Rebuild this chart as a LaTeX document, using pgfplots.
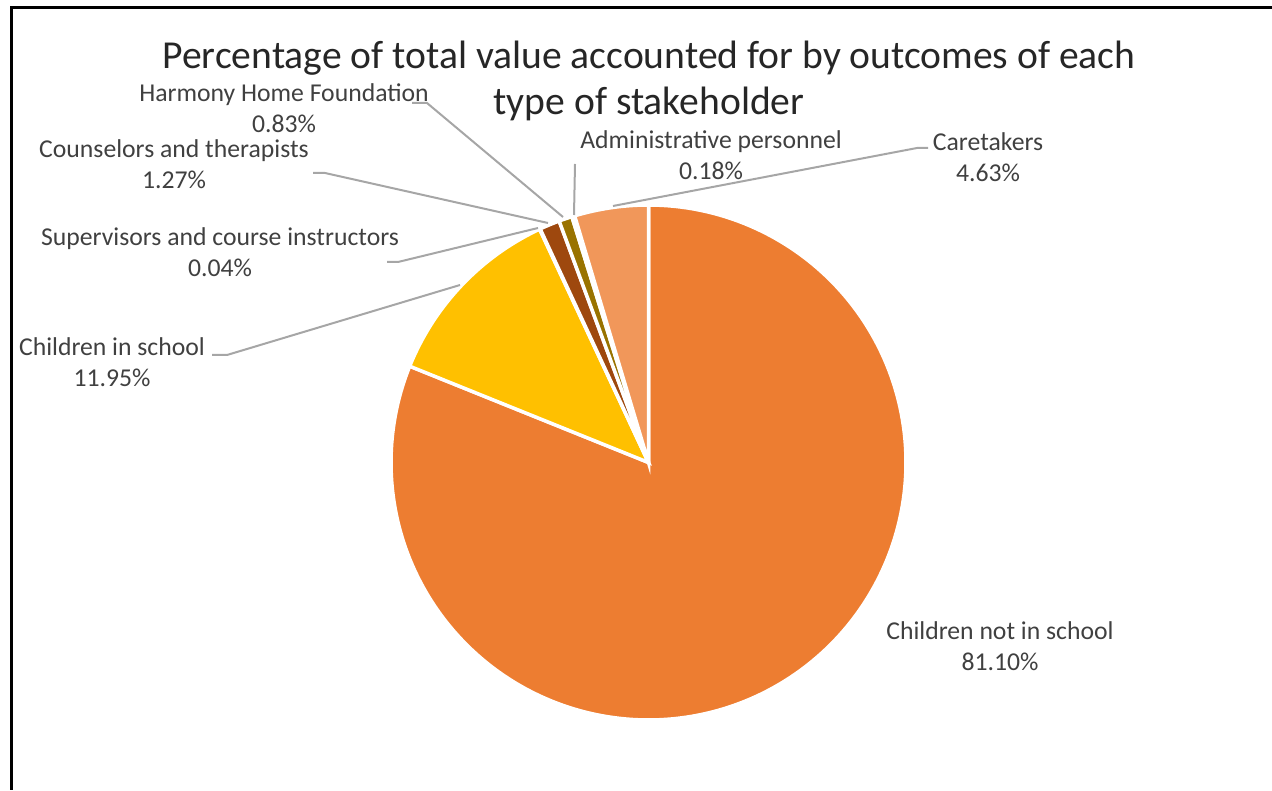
\documentclass[border=0pt]{standalone}
\usepackage{pgfplots}
\pgfplotsset{compat=1.18}
\usepackage{fontspec}
\setmainfont{Carlito}
\definecolor{cNot}{HTML}{ED7D31}
\definecolor{cIn}{HTML}{FFC000}
\definecolor{cSup}{HTML}{C55A11}
\definecolor{cCou}{HTML}{9E480E}
\definecolor{cHar}{HTML}{997300}
\definecolor{cAdm}{HTML}{7F6000}
\definecolor{cCar}{HTML}{F1975A}
\definecolor{lead}{HTML}{A6A6A6}
\definecolor{txt}{HTML}{404040}
% percentages (clockwise from 12 o'clock)
\def\pNot{81.10}\def\pIn{11.95}\def\pSup{0.04}\def\pCou{1.27}\def\pHar{0.83}\def\pAdm{0.18}\def\pCar{4.63}
\newcommand\lbl[4]{%
  \node[anchor=base,text=txt,font=\fontsize{25.7}{30}\selectfont] at (axis cs:#1,#2) {#3};
  \node[anchor=base,text=txt,font=\fontsize{25.7}{30}\selectfont] at (axis cs:#1,#2-31) {#4};}
\begin{document}
\begin{tikzpicture}
\pgfmathsetmacro\aA{90}
\pgfmathsetmacro\aB{\aA-3.6*\pNot}
\pgfmathsetmacro\aC{\aB-3.6*\pIn}
\pgfmathsetmacro\aD{\aC-3.6*\pSup}
\pgfmathsetmacro\aE{\aD-3.6*\pCou}
\pgfmathsetmacro\aF{\aE-3.6*\pHar}
\pgfmathsetmacro\aG{\aF-3.6*\pAdm}
\pgfmathsetmacro\aH{\aG-3.6*\pCar}
\path[use as bounding box] (0,0) rectangle (1272pt,790pt);
\begin{axis}[x=1pt,y=1pt,xmin=0,xmax=1272,ymin=0,ymax=790,
  hide axis,clip=false,anchor=south west,at={(0,0)}]
% slices
\addplot[fill=cNot,draw=white,line width=3.5pt,domain=\aB:\aA,samples=200,variable=\t]
  ({648.5+257.5*cos(\t)},{327.5+257.5*sin(\t)}) -- (axis cs:648.5,327.5) -- cycle;
\addplot[fill=cIn,draw=white,line width=3.5pt,domain=\aC:\aB,samples=40,variable=\t]
  ({648.5+257.5*cos(\t)},{327.5+257.5*sin(\t)}) -- (axis cs:648.5,327.5) -- cycle;
\addplot[fill=cSup,draw=white,line width=3.5pt,domain=\aD:\aC,samples=3,variable=\t]
  ({648.5+257.5*cos(\t)},{327.5+257.5*sin(\t)}) -- (axis cs:648.5,327.5) -- cycle;
\addplot[fill=cCou,draw=white,line width=3.5pt,domain=\aE:\aD,samples=6,variable=\t]
  ({648.5+257.5*cos(\t)},{327.5+257.5*sin(\t)}) -- (axis cs:648.5,327.5) -- cycle;
\addplot[fill=cHar,draw=white,line width=3.5pt,domain=\aF:\aE,samples=5,variable=\t]
  ({648.5+257.5*cos(\t)},{327.5+257.5*sin(\t)}) -- (axis cs:648.5,327.5) -- cycle;
\addplot[fill=cAdm,draw=white,line width=3.5pt,domain=\aG:\aF,samples=3,variable=\t]
  ({648.5+257.5*cos(\t)},{327.5+257.5*sin(\t)}) -- (axis cs:648.5,327.5) -- cycle;
\addplot[fill=cCar,draw=white,line width=3.5pt,domain=\aH:\aG,samples=20,variable=\t]
  ({648.5+257.5*cos(\t)},{327.5+257.5*sin(\t)}) -- (axis cs:648.5,327.5) -- cycle;
% leader lines
\addplot[lead,line width=2pt] coordinates {(212,435) (227,435) (460,505)};
\addplot[lead,line width=2pt] coordinates {(387,528) (398,528) (538,562)};
\addplot[lead,line width=2pt] coordinates {(313,617) (325,617) (548,567)};
\addplot[lead,line width=2pt] coordinates {(412,687) (427,687) (563,573)};
\addplot[lead,line width=2pt] coordinates {(575,626) (574,575)};
\addplot[lead,line width=2pt] coordinates {(928,642) (917,642) (613,584)};
% frame
\addplot[black,line width=3pt] coordinates {(11,0) (11,782) (1272,782)};
% title
\node[anchor=base,text=black!85,font=\fontsize{39.6}{46}\selectfont] at (axis cs:649,721) {Percentage of total value accounted for by outcomes of each};
\node[anchor=base,text=black!85,font=\fontsize{39.6}{46}\selectfont] at (axis cs:649,675) {type of stakeholder};
% labels
\lbl{284}{688}{Harmony Home Foundation}{0.83\%}
\lbl{174}{632}{Counselors and therapists}{1.27\%}
\lbl{220}{544}{Supervisors and course instructors}{0.04\%}
\lbl{112}{434}{Children in school}{11.95\%}
\lbl{711}{641}{Administrative personnel}{0.18\%}
\lbl{988}{639}{Caretakers}{4.63\%}
\lbl{1000}{150}{Children not in school}{81.10\%}
\end{axis}
\end{tikzpicture}
\end{document}
